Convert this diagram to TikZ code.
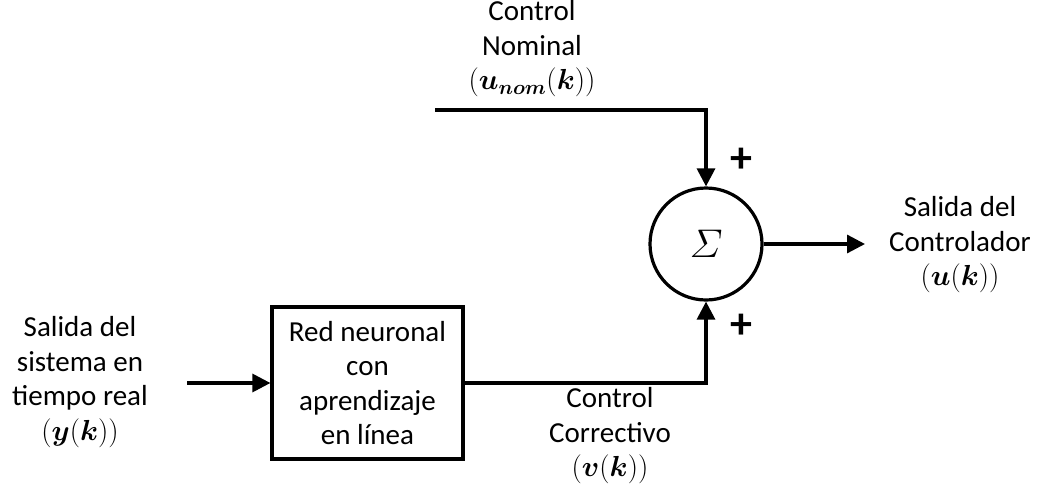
\RequirePackage{fix-cm}
\documentclass[tikz,border=0pt]{standalone}
\usepackage{amsmath}
\usepackage[no-math]{fontspec}
\setmainfont{Carlito}
\usepackage{bm}
\usetikzlibrary{arrows.meta}
\begin{document}
\begin{tikzpicture}[x=1pt,y=-1pt,
  font=\fontsize{29}{34.5}\selectfont,
  wire/.style={line width=3.2pt},
  arr/.style={wire,-{Triangle[length=18pt,width=18pt]}},
  label/.style={align=center,inner sep=0pt},
  sign/.style={inner sep=0pt,font=\fontsize{44}{44}\selectfont\bfseries},
  block/.style={draw,line width=3.2pt,minimum width=191pt,minimum height=152pt,inner sep=0pt,align=center},
  summer/.style={draw,circle,line width=3.2pt,minimum size=112pt,inner sep=0pt}]
\useasboundingbox (0,0) rectangle (1048,495);

% blocks
\node[block] (nn) at (367.5,383) {Red neuronal\\con\\aprendizaje\\en línea};
\node[summer] (sum) at (706,244) {\fontsize{40}{40}\selectfont$\varSigma$};

% signal labels
\node[label] (lin) at (80,382) {Salida del\\sistema en\\tiempo real\\$(\bm{y}(\bm{k}))$};
\node[label] (lnom) at (532,49) {Control\\Nominal\\$(\bm{u}_{\bm{nom}}(\bm{k}))$};
\node[label] (lcor) at (610,436) {Control\\Correctivo\\$(\bm{v}(\bm{k}))$};
\node[label] (lout) at (960,245) {Salida del\\Controlador\\$(\bm{u}(\bm{k}))$};
\node[sign] (p1) at (741,160) {+};
\node[sign] (p2) at (741,326) {+};

% connectors
\coordinate (in) at (187,383);
\coordinate (nom) at (435,110);
\coordinate (out) at (865,244);
\draw[arr] (in) -- (nn.west);
\draw[arr] (nom) -| (sum.north);
\draw[arr] (nn.east) -| (sum.south);
\draw[arr] (sum.east) -- (out);
\end{tikzpicture}
\end{document}
